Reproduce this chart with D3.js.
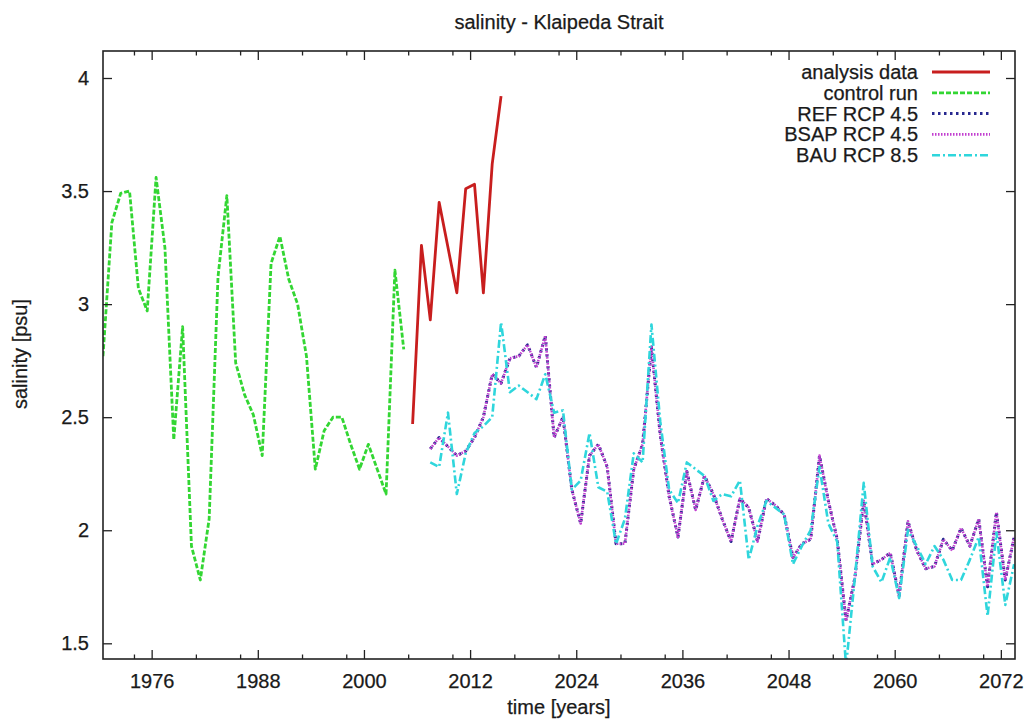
<!DOCTYPE html>
<html>
<head>
<meta charset="utf-8">
<script src="https://cdn.jsdelivr.net/npm/d3@7/dist/d3.min.js"></script>
<style>
  body { margin: 0; background: #fff; }
  text { font-family: "Liberation Sans", Arial, Helvetica, sans-serif; fill: #1a1a1a; stroke: #1a1a1a; stroke-width: 0.25px; }
</style>
</head>
<body>
<div id="chart"></div>
<script>
// Yearly means (first value of each run sits at mid-year)
const controlStart = 1970.5;
const controlRun = [
  2.77, 3.36, 3.49, 3.5, 3.07, 2.97, 3.56, 3.25, 2.4, 2.9,
  1.93, 1.78, 2.05, 3.12, 3.48, 2.74, 2.6, 2.51, 2.33, 3.18,
  3.3, 3.11, 3.0, 2.77, 2.27, 2.44, 2.5, 2.5, 2.38, 2.27,
  2.38, 2.27, 2.16, 3.15, 2.8
];

const analysisStart = 2005.5;
const analysisData = [2.47, 3.26, 2.93, 3.45, 3.25, 3.05, 3.51, 3.53, 3.05, 3.62, 3.92];

const scenarioStart = 2007.5;
const refRcp45 = [
  2.36, 2.41, 2.37, 2.33, 2.35, 2.41, 2.5, 2.69, 2.65, 2.76,
  2.77, 2.82, 2.72, 2.86, 2.41, 2.5, 2.18, 2.03, 2.33, 2.38,
  2.28, 1.94, 1.94, 2.27, 2.38, 2.81, 2.42, 2.15, 1.97, 2.26,
  2.09, 2.24, 2.16, 2.05, 1.95, 2.14, 2.1, 1.95, 2.14, 2.11,
  2.07, 1.88, 1.94, 1.96, 2.33, 2.13, 1.96, 1.6, 1.79, 2.13,
  1.85, 1.87, 1.9, 1.71, 2.04, 1.91, 1.83, 1.84, 1.96, 1.91,
  2.01, 1.93, 2.05, 1.75, 2.08, 1.78, 1.97
];
// BSAP lies on top of REF everywhere in the picture
const bsapRcp45 = [
  2.36, 2.41, 2.37, 2.33, 2.35, 2.41, 2.5, 2.69, 2.65, 2.76,
  2.77, 2.82, 2.72, 2.86, 2.41, 2.5, 2.18, 2.03, 2.33, 2.38,
  2.28, 1.94, 1.94, 2.27, 2.38, 2.81, 2.42, 2.15, 1.97, 2.26,
  2.09, 2.24, 2.16, 2.05, 1.95, 2.14, 2.1, 1.95, 2.14, 2.11,
  2.07, 1.88, 1.94, 1.96, 2.33, 2.13, 1.96, 1.6, 1.79, 2.13,
  1.85, 1.87, 1.9, 1.71, 2.04, 1.91, 1.83, 1.84, 1.96, 1.91,
  2.01, 1.93, 2.05, 1.75, 2.08, 1.78, 1.97
];
const bauRcp85 = [
  2.3, 2.28, 2.52, 2.16, 2.34, 2.43, 2.46, 2.5, 2.92, 2.61,
  2.64, 2.61, 2.58, 2.69, 2.52, 2.53, 2.18, 2.22, 2.43, 2.19,
  2.17, 1.94, 2.05, 2.34, 2.3, 2.91, 2.48, 2.18, 2.12, 2.3,
  2.27, 2.24, 2.13, 2.16, 2.15, 2.22, 1.87, 2.02, 2.13, 2.1,
  2.07, 1.85, 1.93, 2.0, 2.28, 2.03, 1.95, 1.4, 1.79, 2.21,
  1.84, 1.77, 1.88, 1.7, 2.0, 1.93, 1.85, 1.93, 1.87, 1.78,
  1.78, 1.87, 1.97, 1.62, 1.99, 1.67, 1.85
];

// Axis ticks
const majorYears = [1976, 1988, 2000, 2012, 2024, 2036, 2048, 2060, 2072];
const minorYears = [1974, 1981, 1986, 1993, 1998, 2005, 2010, 2017, 2022, 2029,
  2034, 2041, 2046, 2053, 2058, 2065, 2070];
const salinityTicks = [1.5, 2, 2.5, 3, 3.5, 4];

drawChart();

function drawChart() {
  let margin = { top: 51, right: 11, bottom: 61, left: 103 },
    width = 1026 - margin.left - margin.right,
    height = 720 - margin.top - margin.bottom;

  let axisColor = "#222";
  let fontSize = "20px";

  let svg = d3
    .select("#chart")
    .append("svg")
    .attr("width", width + margin.left + margin.right)
    .attr("height", height + margin.top + margin.bottom)
    .append("g")
    .attr("transform", "translate(" + margin.left + "," + margin.top + ")");

  // Scales
  let x = d3.scaleLinear().domain([1970.5, 2073.6]).range([0, width]);
  let y = d3.scaleLinear().domain([1.4306, 4.1194]).range([height, 0]);

  // Series, in the plotting order of the original figure
  let series = [
    { name: "analysis data", start: analysisStart, values: analysisData, color: "#c81e1e", dash: null, w: 2.8 },
    { name: "control run", start: controlStart, values: controlRun, color: "#33d633", dash: "5,2", w: 2.8 },
    { name: "REF RCP 4.5", start: scenarioStart, values: refRcp45, color: "#27288f", dash: "2.5,3.5", w: 3 },
    { name: "BSAP RCP 4.5", start: scenarioStart, values: bsapRcp45, color: "#c23fd0", dash: "1.5,1.5", w: 2.6 },
    { name: "BAU RCP 8.5", start: scenarioStart, values: bauRcp85, color: "#2fd6dc", dash: "8,3,2,3", w: 2.6 }
  ];

  svg
    .append("clipPath")
    .attr("id", "plotArea")
    .append("rect")
    .attr("width", width)
    .attr("height", height);

  let line = d3
    .line()
    .x(function (d) { return x(d.year); })
    .y(function (d) { return y(d.value); });

  svg
    .append("g")
    .attr("clip-path", "url(#plotArea)")
    .selectAll("path")
    .data(series)
    .enter()
    .append("path")
    .attr("fill", "none")
    .attr("stroke", function (d) { return d.color; })
    .attr("stroke-width", function (d) { return d.w; })
    .attr("stroke-dasharray", function (d) { return d.dash; })
    .attr("stroke-linejoin", "round")
    .attr("d", function (d) {
      return line(d.values.map(function (v, i) {
        return { year: d.start + i, value: v };
      }));
    });

  // Axes: ticks point inwards, mirrored on top and right like gnuplot
  function styleAxis(g) {
    g.select(".domain").remove();
    g.selectAll("line").attr("stroke", axisColor).attr("stroke-width", 1.3);
    g.selectAll("text").style("font-size", fontSize).attr("fill", "#1a1a1a");
  }

  svg.append("g")
    .attr("transform", "translate(0," + height + ")")
    .call(d3.axisBottom(x).tickValues(minorYears).tickSizeInner(-4.5).tickSizeOuter(0).tickFormat(""))
    .call(styleAxis);
  svg.append("g")
    .attr("transform", "translate(0," + height + ")")
    .call(d3.axisBottom(x).tickValues(majorYears).tickSizeInner(-9).tickSizeOuter(0)
      .tickPadding(15).tickFormat(d3.format("d")))
    .call(styleAxis);

  svg.append("g")
    .call(d3.axisTop(x).tickValues(minorYears).tickSizeInner(-4.5).tickSizeOuter(0).tickFormat(""))
    .call(styleAxis);
  svg.append("g")
    .call(d3.axisTop(x).tickValues(majorYears).tickSizeInner(-9).tickSizeOuter(0).tickFormat(""))
    .call(styleAxis);

  svg.append("g")
    .call(d3.axisLeft(y).tickValues(salinityTicks).tickSizeInner(-9).tickSizeOuter(0)
      .tickPadding(14).tickFormat(function (d) { return String(d); }))
    .call(styleAxis);
  svg.append("g")
    .attr("transform", "translate(" + width + ",0)")
    .call(d3.axisRight(y).tickValues(salinityTicks).tickSizeInner(-9).tickSizeOuter(0).tickFormat(""))
    .call(styleAxis);

  // Plot border
  svg.append("rect")
    .attr("width", width)
    .attr("height", height)
    .attr("fill", "none")
    .attr("stroke", axisColor)
    .attr("stroke-width", 1.6);

  // Title and axis labels
  svg.append("text")
    .attr("x", width / 2)
    .attr("y", -22)
    .attr("text-anchor", "middle")
    .style("font-size", fontSize)
    .text("salinity - Klaipeda Strait");

  svg.append("text")
    .attr("x", width / 2)
    .attr("y", height + 55)
    .attr("text-anchor", "middle")
    .style("font-size", fontSize)
    .text("time [years]");

  svg.append("text")
    .attr("transform", "translate(" + (-76) + "," + (354 - margin.top) + ")rotate(-90)")
    .attr("text-anchor", "middle")
    .style("font-size", fontSize)
    .text("salinity [psu]");

  // Legend, top right inside the box
  let legend = svg.append("g")
    .attr("transform", "translate(" + (918 - margin.left) + "," + (72 - margin.top) + ")");

  let rows = legend.selectAll("g")
    .data(series)
    .enter()
    .append("g")
    .attr("transform", function (d, i) { return "translate(0," + i * 20.8 + ")"; });

  rows.append("text")
    .attr("text-anchor", "end")
    .attr("dy", "0.35em")
    .style("font-size", fontSize)
    .text(function (d) { return d.name; });

  rows.append("line")
    .attr("x1", 14)
    .attr("x2", 72)
    .attr("stroke", function (d) { return d.color; })
    .attr("stroke-width", function (d) { return d.w; })
    .attr("stroke-dasharray", function (d) { return d.dash; });
}
</script>
</body>
</html>
